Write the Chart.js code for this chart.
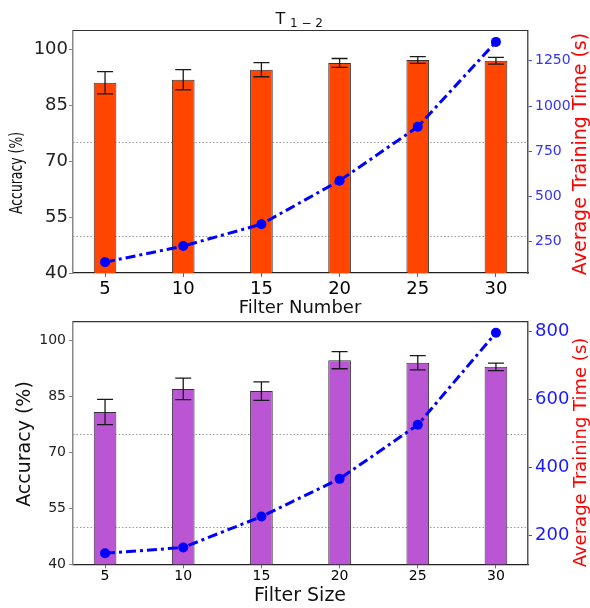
<!DOCTYPE html>
<html><head><meta charset="utf-8">
<script src="https://cdn.jsdelivr.net/npm/chart.js@4.4.0/dist/chart.umd.min.js"></script>
<style>
html,body{margin:0;padding:0;background:#fff;}
#wrap{position:relative;width:590px;height:608px;overflow:hidden;background:#fff;}
#c1{position:absolute;left:0;top:0;}
#c2{position:absolute;left:0;top:300px;}
</style></head><body>
<div id="wrap">
<canvas id="c2" width="590" height="308"></canvas>
<canvas id="c1" width="590" height="330"></canvas>
</div>
<script>
// ---- data ----
const filterNumbers = [5, 10, 15, 20, 25, 30];
const accNumber = [91.0, 91.8, 94.5, 96.3, 97.1, 96.9];
const accNumberErr = [3.0, 2.7, 1.9, 1.2, 0.9, 0.9];
const timeNumber = [136, 225, 346, 587, 885, 1355];

const filterSizes = [5, 10, 15, 20, 25, 30];
const accSize = [80.8, 87.0, 86.4, 94.7, 94.0, 92.9];
const accSizeErr = [3.4, 2.9, 2.5, 2.3, 1.9, 1.0];
const timeSize = [148, 165, 256, 367, 526, 797];

const accTicks = [40, 55, 70, 85, 100];
const timeTicksTop = [250, 500, 750, 1000, 1250];
const timeTicksBottom = [200, 400, 600, 800];
const refLines = [50, 75];

Chart.defaults.font.family = "'DejaVu Sans', sans-serif";
Chart.defaults.animation = false;

const errorBars = {
  id: 'errorBars',
  afterDatasetDraw(chart, args, opts) {
    if (args.index !== 0) return;
    const meta = chart.getDatasetMeta(0);
    const ys = chart.scales.y;
    const ctx = chart.ctx;
    const vals = chart.data.datasets[0].data;
    ctx.save();
    ctx.strokeStyle = '#1a1a1a';
    ctx.lineWidth = 1.3;
    meta.data.forEach((bar, i) => {
      const v = vals[i].y, e = opts.errors[i];
      const yt = ys.getPixelForValue(v + e), yb = ys.getPixelForValue(v - e);
      const x = bar.x;
      ctx.beginPath();
      ctx.moveTo(x, yt); ctx.lineTo(x, yb);
      ctx.moveTo(x - 8, yt); ctx.lineTo(x + 8, yt);
      ctx.moveTo(x - 8, yb); ctx.lineTo(x + 8, yb);
      ctx.stroke();
    });
    ctx.restore();
  }
};

const refLinePlugin = {
  id: 'refLinePlugin',
  beforeDatasetsDraw(chart) {
    const ctx = chart.ctx, a = chart.chartArea, ys = chart.scales.y;
    ctx.save();
    ctx.strokeStyle = '#999';
    ctx.lineWidth = 1;
    ctx.setLineDash([1.5, 2]);
    refLines.forEach(v => {
      const y = Math.round(ys.getPixelForValue(v)) + 0.5;
      ctx.beginPath(); ctx.moveTo(a.left, y); ctx.lineTo(a.right, y); ctx.stroke();
    });
    ctx.restore();
  }
};

const framePlugin = {
  id: 'framePlugin',
  afterDraw(chart) {
    const ctx = chart.ctx, a = chart.chartArea;
    ctx.save();
    ctx.strokeStyle = '#333';
    ctx.lineWidth = 1.2;
    ctx.beginPath(); ctx.moveTo(a.left, a.top); ctx.lineTo(a.right, a.top); ctx.stroke();
    ctx.restore();
  }
};

const textPlugin = {
  id: 'textPlugin',
  afterDraw(chart, args, opts) {
    const ctx = chart.ctx;
    (opts.items || []).forEach(it => {
      ctx.save();
      ctx.font = it.size + "px 'DejaVu Sans'";
      ctx.fillStyle = it.color || '#000';
      ctx.textAlign = 'center';
      ctx.textBaseline = 'middle';
      ctx.translate(it.x, it.y);
      if (it.rot) ctx.rotate(it.rot);
      if (it.len) {
        const w = ctx.measureText(it.text).width;
        ctx.scale(it.len / w, 1);
      }
      ctx.fillText(it.text, 0, 0);
      ctx.restore();
    });
  }
};

const plain = v => String(v);

function makeChart(id, cfg) {
  const pts = (xs, ys) => xs.map((x, i) => ({ x: x, y: ys[i] }));
  return new Chart(document.getElementById(id), {
    data: {
      datasets: [
        {
          type: 'bar', data: pts(cfg.cats, cfg.acc), yAxisID: 'y', order: 2,
          backgroundColor: cfg.barColor, borderColor: '#333', borderWidth: 1,
          borderSkipped: 'bottom', barPercentage: 0.29, categoryPercentage: 1.0
        },
        {
          type: 'line', data: pts(cfg.cats, cfg.time), yAxisID: 'y2', order: 1,
          borderColor: '#0000ff', borderWidth: 3, borderDash: [10, 4, 3, 4],
          pointRadius: 5, pointBackgroundColor: '#0000ff', pointBorderWidth: 0,
          tension: 0, fill: false
        }
      ]
    },
    options: {
      responsive: false,
      animation: false,
      layout: { padding: { top: cfg.padTop, left: 0, right: 0, bottom: 0 } },
      plugins: {
        legend: { display: false }, tooltip: { enabled: false },
        errorBars: { errors: cfg.err },
        textPlugin: { items: cfg.texts }
      },
      scales: {
        x: {
          type: 'linear', min: 2.95, max: 32.05, offset: false,
          afterBuildTicks: s => { s.ticks = cfg.cats.map(v => ({ value: v })); },
          afterFit: s => { s.height = cfg.xHeight; },
          ticks: { font: { size: cfg.xFont }, color: '#000', padding: cfg.xPad, maxRotation: 0, autoSkip: false, callback: plain },
          grid: { drawOnChartArea: false, offset: false, tickLength: 4, tickColor: '#666' },
          border: { color: '#222', width: 1.2 }
        },
        y: {
          position: 'left', min: 40, max: 105,
          afterBuildTicks: s => { s.ticks = accTicks.map(v => ({ value: v })); },
          afterFit: s => { s.width = 73; },
          ticks: { font: { size: cfg.yFont }, color: '#222', padding: cfg.yPad, callback: plain },
          grid: { drawOnChartArea: false, tickLength: 4, tickColor: '#888' },
          border: { color: '#888', width: 1.5 }
        },
        y2: {
          position: 'right', min: cfg.tMin, max: cfg.tMax,
          afterBuildTicks: s => { s.ticks = cfg.tTicks.map(v => ({ value: v })); },
          afterFit: s => { s.width = 62; },
          ticks: { font: { size: cfg.y2Font }, color: cfg.y2Color, padding: 3, callback: plain },
          grid: { drawOnChartArea: false, tickLength: 4, tickColor: '#4a4aff' },
          border: { color: '#555', width: 1.5 }
        }
      }
    },
    plugins: [refLinePlugin, errorBars, framePlugin, textPlugin]
  });
}

makeChart('c1', {
  cats: filterNumbers, acc: accNumber, err: accNumberErr, time: timeNumber,
  barColor: '#ff4500', padTop: 30.5, xHeight: 57, xFont: 18, xPad: 2,
  yFont: 18, yPad: 1, y2Font: 14, y2Color: '#3333ff',
  tMin: 76, tMax: 1418, tTicks: timeTicksTop,
  texts: [
    { text: 'T', x: 280.3, y: 19.5, size: 16, color: '#111' },
    { text: '1 − 2', x: 306.5, y: 23.5, size: 12, color: '#111' },
    { text: 'Accuracy (%)', x: 17, y: 173, size: 18, color: '#111', rot: -Math.PI / 2, len: 82 },
    { text: 'Average Training Time (s)', x: 581, y: 154, size: 19, color: '#ff0000', rot: -Math.PI / 2 },
    { text: 'Filter Number', x: 300, y: 308.5, size: 18, color: '#111' }
  ]
});

makeChart('c2', {
  cats: filterSizes, acc: accSize, err: accSizeErr, time: timeSize,
  barColor: '#ba55d3', padTop: 21.7, xHeight: 43.7, xFont: 14, xPad: 0,
  yFont: 14, yPad: 3, y2Font: 18, y2Color: '#1a1aff',
  tMin: 115.5, tMax: 829.5, tTicks: timeTicksBottom,
  texts: [
    { text: 'Accuracy (%)', x: 25, y: 144, size: 19, color: '#111', rot: -Math.PI / 2 },
    { text: 'Average Training Time (s)', x: 581, y: 152.5, size: 18, color: '#ff0000', rot: -Math.PI / 2 },
    { text: 'Filter Size', x: 300, y: 296.5, size: 19, color: '#111' }
  ]
});
</script>
</body></html>
